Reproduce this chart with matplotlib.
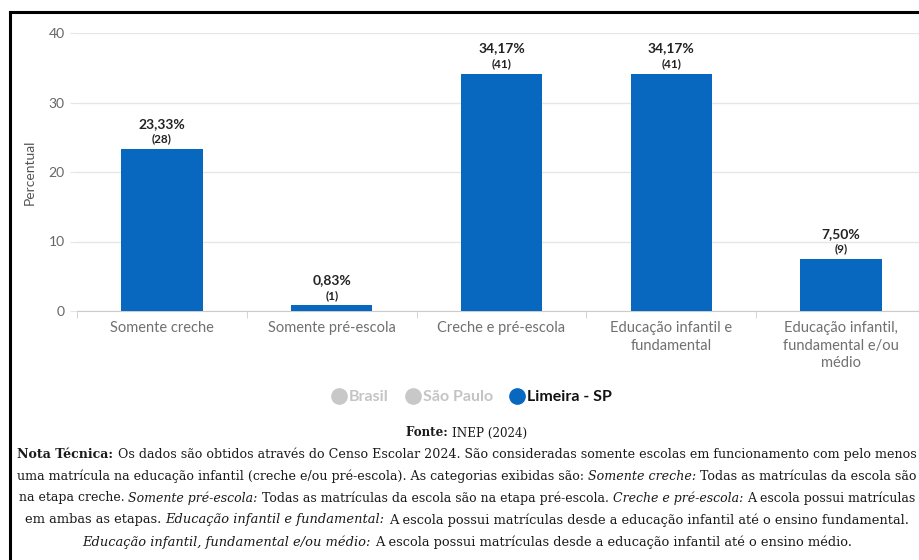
import numpy as np
import matplotlib
matplotlib.use('Agg')
import matplotlib.pyplot as plt
from matplotlib.lines import Line2D

# dados
categorias = ['Somente creche', 'Somente pré-escola', 'Creche e pré-escola',
              'Educação infantil e\nfundamental',
              'Educação infantil,\nfundamental e/ou\nmédio']
percentuais = [23.33, 0.83, 34.17, 34.17, 7.50]
escolas = [28, 1, 41, 41, 9]
y_ticks = [0, 10, 20, 30, 40]
legenda = ['Brasil', 'São Paulo', 'Limeira - SP']
cores_legenda = ['#c8c8c8', '#c8c8c8', '#0868c0']
cores_texto_legenda = ['#c4c4c4', '#c4c4c4', '#111111']

fonte_linha = [('Fonte: ', 'b'), ('INEP (2024)', 'n')]
nota = [
    [('Nota Técnica: ', 'b'),
     ('Os dados são obtidos através do Censo Escolar 2024. São consideradas somente escolas em funcionamento com pelo menos', 'n')],
    [('uma matrícula na educação infantil (creche e/ou pré-escola). As categorias exibidas são: ', 'n'),
     ('Somente creche: ', 'i'), ('Todas as matrículas da escola são', 'n')],
    [('na etapa creche. ', 'n'), ('Somente pré-escola: ', 'i'),
     ('Todas as matrículas da escola são na etapa pré-escola. ', 'n'),
     ('Creche e pré-escola: ', 'i'), ('A escola possui matrículas', 'n')],
    [('em ambas as etapas. ', 'n'), ('Educação infantil e fundamental: ', 'i'),
     ('A escola possui matrículas desde a educação infantil até o ensino fundamental.', 'n')],
    [('Educação infantil, fundamental e/ou médio: ', 'i'),
     ('A escola possui matrículas desde a educação infantil até o ensino médio.', 'n')],
]

W, H = 919, 560
AZUL = '#0868c0'
plt.rcParams['font.family'] = ['Lato', 'DejaVu Sans']

fig = plt.figure(figsize=(W / 100, H / 100), dpi=100)
ax = fig.add_axes([77 / W, 1 - 311 / H, 849 / W, 278 / H])

x = np.arange(len(categorias))
ax.bar(x, percentuais, width=0.48, color=AZUL, zorder=3)
ax.set_xlim(-0.5, len(categorias) - 0.5)
ax.set_ylim(0, 40)

for i, (p, n) in enumerate(zip(percentuais, escolas)):
    ax.annotate(f'({n})', (i, p), xytext=(0, 7), textcoords='offset points',
                ha='center', va='center', fontsize=8.5, fontweight='bold', color='#222222')
    ax.annotate(f'{p:.2f}'.replace('.', ',') + '%', (i, p), xytext=(0, 18),
                textcoords='offset points', ha='center', va='center',
                fontsize=10, fontweight='bold', color='#222222')

for s in ['top', 'right', 'left']:
    ax.spines[s].set_visible(False)
ax.spines['bottom'].set_color('#cccccc')

ax.set_yticks(y_ticks)
ax.grid(axis='y', color='#e6e6e6', lw=1, zorder=0)
ax.tick_params(axis='y', length=5, color='#e6e6e6', labelcolor='#666666',
               labelsize=10, pad=4)
ax.set_xticks(x)
ax.set_xticklabels(categorias, fontsize=10.5, color='#707070', linespacing=1.35)
ax.set_xticks(np.arange(-0.5, len(categorias)), minor=True)
ax.tick_params(axis='x', which='major', length=0, pad=7)
ax.tick_params(axis='x', which='minor', length=5, color='#cccccc')

fig.text(30 / W, 1 - 172 / H, 'Percentual', rotation=90, ha='center', va='center',
         fontsize=10, color='#555555')

# legenda
handles = [Line2D([], [], marker='o', ls='', markersize=11, color=c) for c in cores_legenda]
leg = fig.legend(handles, legenda, loc='center', bbox_to_anchor=(472 / W, 1 - 397 / H),
                 ncol=3, frameon=False, handletextpad=0.22, columnspacing=1.1,
                 handlelength=0.8, prop={'weight': 'bold', 'size': 11.5})
for t, c in zip(leg.get_texts(), cores_texto_legenda):
    t.set_color(c)

# textos com estilos mistos
estilos = {'n': {}, 'b': {'fontweight': 'bold'}, 'i': {'fontstyle': 'italic'}}
renderer = fig.canvas.get_renderer()
SERIF = 'DejaVu Serif'


def medir(partes, size):
    larguras = []
    for txt, est in partes:
        t1 = fig.text(0, 0, 'x' + txt + 'x', fontsize=size, family=SERIF, **estilos[est])
        t2 = fig.text(0, 0, 'xx', fontsize=size, family=SERIF, **estilos[est])
        larguras.append(t1.get_window_extent(renderer).width - t2.get_window_extent(renderer).width)
        t1.remove()
        t2.remove()
    return larguras


def linha_mista(y_px, partes, size=9.4, cx=467, largura_max=888):
    larguras = medir(partes, size)
    if sum(larguras) > largura_max:
        # linhas longas: reduz um pouco para caber na figura
        size = size * largura_max / sum(larguras)
        larguras = medir(partes, size)
    xp = cx - sum(larguras) / 2
    for (txt, est), w in zip(partes, larguras):
        fig.text(xp / W, 1 - y_px / H, txt, fontsize=size, family=SERIF,
                 ha='left', va='center', color='#1a1a1a', **estilos[est])
        xp += w


linha_mista(433, fonte_linha, size=8.6, cx=467)
for k, partes in enumerate(nota):
    linha_mista(454 + 22 * k, partes)

# moldura preta (topo e esquerda)
fig.add_artist(Line2D([10 / W, 1], [1 - 12 / H] * 2, transform=fig.transFigure,
                      color='black', lw=2.2))
fig.add_artist(Line2D([10 / W] * 2, [0, 1 - 12 / H], transform=fig.transFigure,
                      color='black', lw=2.2))

fig.savefig('out.png', dpi=100)
